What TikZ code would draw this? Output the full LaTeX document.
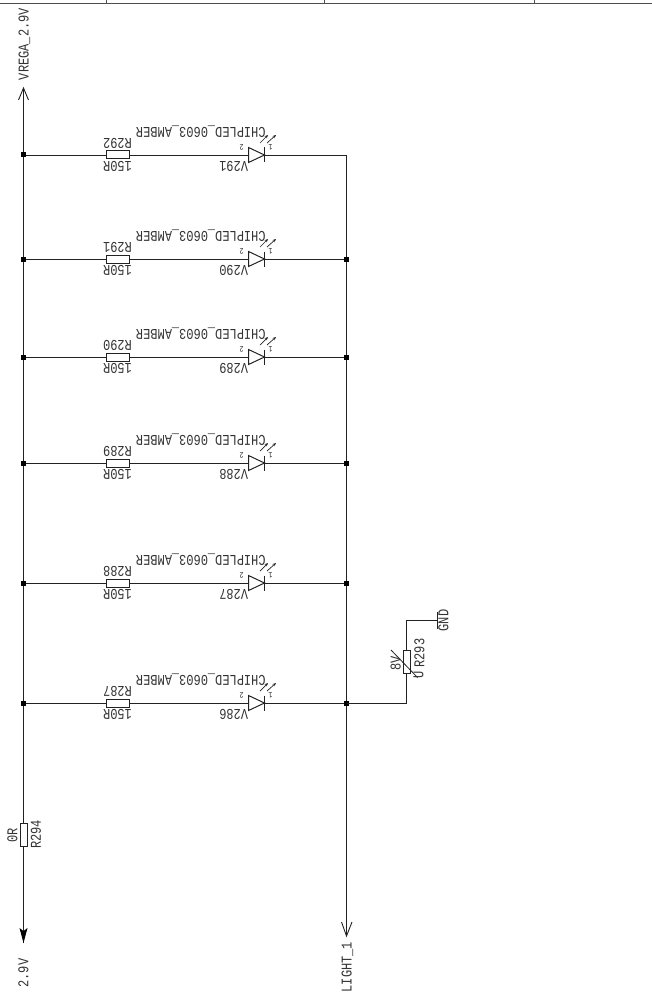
\documentclass[tikz,border=0pt]{standalone}
\usetikzlibrary{arrows.meta}
\usepackage{fontspec}
\newfontfamily\cad[FakeStretch=0.8]{Liberation Mono}
\newcommand{\bigt}{\cad\fontsize{15}{15}\selectfont}
\newcommand{\smallt}{\cad\fontsize{8.5}{8.5}\selectfont}
\definecolor{ink}{HTML}{222222}
\definecolor{inktext}{HTML}{333333}
\tikzset{
  wire/.style={draw=ink,line width=0.9pt},
  frameline/.style={draw=ink!80,line width=1pt},
  part/.style={draw=ink,line width=1pt,fill=white,minimum width=23pt,minimum height=8pt,inner sep=0pt,outer sep=0pt},
  partv/.style={draw=ink,line width=1pt,fill=white,minimum width=7pt,minimum height=23pt,inner sep=0pt,outer sep=0pt},
  ledbox/.style={minimum width=16pt,minimum height=15pt,inner sep=0pt,outer sep=0pt},
  jdot/.style={fill=black,minimum size=5pt,inner sep=0pt,outer sep=0pt},
  lab/.style={text=inktext,inner sep=0pt,font=\bigt},
  labs/.style={text=inktext,inner sep=0pt,font=\smallt},
  up/.style={lab,rotate=90},
  down/.style={lab,rotate=180},
  downs/.style={labs,rotate=180},
}
\begin{document}
\begin{tikzpicture}[x=1pt,y=-1pt]
\useasboundingbox (0,0) rectangle (652,1000);
% title-block frame
\draw[frameline] (0,3.5) -- (652,3.5);
\foreach \fx in {106,324.5,534.5} \draw[frameline] (\fx,0) -- (\fx,3.5);
% bus ends
\coordinate (busT) at (23.5,88);
\coordinate (busB) at (23.5,943);
\coordinate (lightT) at (346.5,155);
\coordinate (lightB) at (346.5,936);
\node[partv] (R294) at (23.5,835) {};
\draw[wire] (busT) -- (R294.north);
\draw[wire] (R294.south) -- (busB);
\draw[wire] (lightT) -- (lightB);
% arrows
\draw[wire] (18.5,100) -- (busT) -- (28.5,100);
\fill[black] (busB) -- (19.5,928) -- (23.5,931) -- (27.5,928) -- cycle;
\draw[wire] (341.5,922) -- (lightB) -- (352,922);
% labels of bus
\node[up] at (24.5,44) {VREGA\_2.9V};
\node[up] at (23.5,973) {2.9V};
\node[up] at (347.5,967) {LIGHT\_1};
\node[up] at (12.5,835) {0R};
\node[up] at (36,834.5) {R294};
% LED rows
\foreach \yy/\rn/\vn/\idx in {155/292/291/1,259/291/290/2,357/290/289/3,463/289/288/4,583/288/287/5,703/287/286/6}{
  \coordinate (JL\idx) at (23.5,\yy);
  \coordinate (JR\idx) at (346.5,\yy);
  \node[part] (R\idx) at (117.5,\yy) {};
  \node[ledbox] (D\idx) at (256.5,\yy) {};
  \draw[wire] (JL\idx) -- (R\idx.west);
  \draw[wire] (R\idx.east) -- (D\idx.west);
  \draw[wire] (D\idx.east) -- (JR\idx);
  \draw[draw=ink,line width=1pt] (D\idx.north west) -- (D\idx.east) -- (D\idx.south west) -- cycle;
  \draw[draw=ink,line width=1pt] (D\idx.north east) -- (D\idx.south east);
  \draw[draw=ink,line width=0.7pt,-{Stealth[length=3.5pt,width=3pt]}] (260,\yy-12) -- (268,\yy-20);
  \draw[draw=ink,line width=0.7pt,-{Stealth[length=3.5pt,width=3pt]}] (267,\yy-12) -- (276,\yy-20);
  \node[jdot] at (JL\idx) {};
  \node[down] at (117.5,\yy-12) {R\rn};
  \node[down] at (117.5,\yy+11.5) {150R};
  \node[down] at (200.8,\yy-23) {CHIPLED\_0603\_AMBER};
  \node[down] at (233.7,\yy+11) {V\vn};
  \node[downs] at (241.7,\yy-8) {2};
  \node[downs] at (270.5,\yy-8) {1};
}
\foreach \idx in {2,...,6} \node[jdot] at (JR\idx) {};
% varistor
\node[partv] (R293) at (406.5,662) {};
\coordinate (gndpt) at (437,620);
\draw[wire] (JR6) -| (R293.south);
\draw[wire] (R293.north) |- (gndpt);
\draw[draw=ink,line width=1pt] (437,612) -- (437,629);
\draw[draw=ink,line width=0.8pt] (391,650) -- (417.5,677.5);
\node[up] at (395.7,663) {8V};
\node[up] at (419.5,653) {R293};
\node[up] at (418.5,674.5) {U};
\node[up] at (443.5,620.5) {GND};
\end{tikzpicture}
\end{document}
